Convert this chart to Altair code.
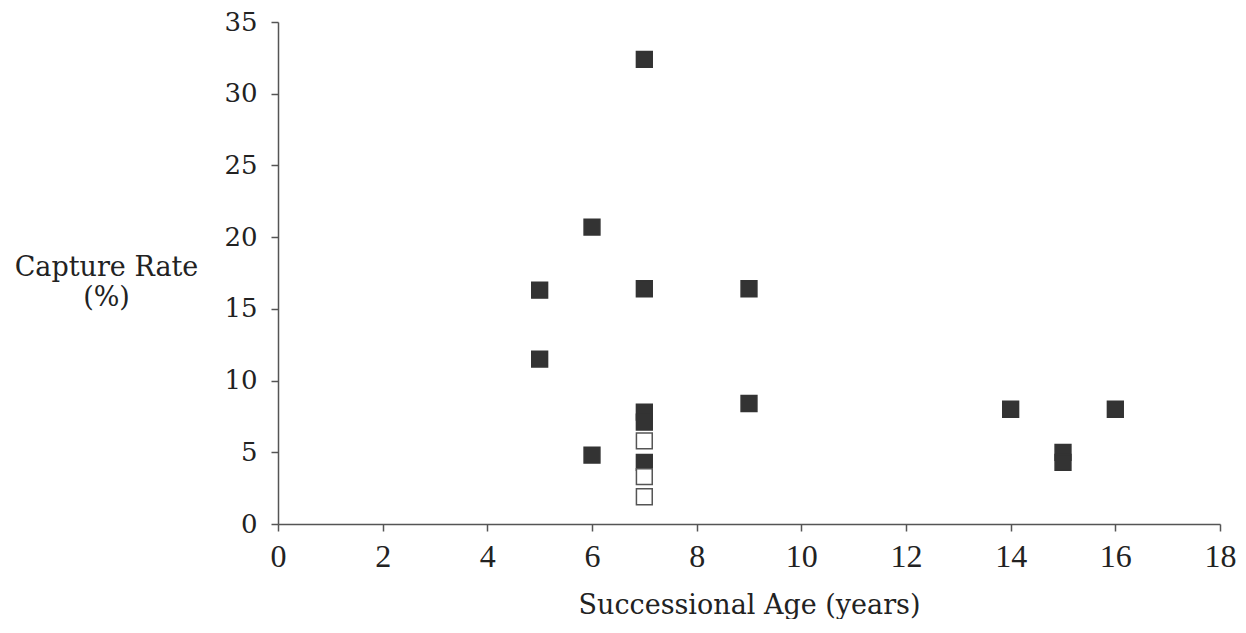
import altair as alt
import pandas as pd

age = [7, 6, 5, 7, 9, 5, 9, 14, 16, 15, 15, 6, 7, 7, 7, 7, 7, 7]
rate = [32.4, 20.7, 16.3, 16.4, 16.4, 11.5, 8.4, 8.0, 8.0, 5.0, 4.3, 4.8, 7.8, 7.1, 5.8, 4.3, 3.3, 1.9]
kind = ["filled"] * 14 + ["open", "filled", "open", "open"]

df = pd.DataFrame({"age": age, "rate": rate, "kind": kind})

SERIF = "DejaVu Serif"
XFONT = "Liberation Serif"

chart = alt.Chart(df).mark_point(shape="square", size=250, strokeWidth=1.5, opacity=1).encode(
    x=alt.X("age:Q", scale=alt.Scale(domain=[0, 18], nice=False),
            axis=alt.Axis(values=list(range(0, 19, 2)), title="Successional Age (years)",
                          titleFont=SERIF, titleFontSize=27, titleFontWeight="normal", titlePadding=20,
                          labelFont=XFONT, labelFontSize=32, labelPadding=10, tickSize=7, grid=False,
                          labelFlush=False)),
    y=alt.Y("rate:Q", scale=alt.Scale(domain=[0, 35], nice=False),
            axis=alt.Axis(values=list(range(0, 36, 5)), title=["Capture Rate", "(%)"],
                          titleFont=SERIF, titleAngle=0, titleAlign="center", titleBaseline="top",
                          titleX=-172, titleY=232, titleFontSize=27, titleFontWeight="normal",
                          titleLineHeight=30,
                          labelFont=SERIF, labelFontSize=26, labelPadding=14, tickSize=7, grid=False,
                          labelFlush=False)),
    fill=alt.Fill("kind:N", scale=alt.Scale(domain=["filled", "open"], range=["#333333", "#ffffff"]), legend=None),
    stroke=alt.Stroke("kind:N", scale=alt.Scale(domain=["filled", "open"], range=["#333333", "#555555"]), legend=None),
    order=alt.Order("kind:N"),
).properties(
    width=942, height=502,
    autosize=alt.AutoSizeParams(type="none"),
    padding={"left": 270, "top": 14, "right": 16, "bottom": 95},
).configure_axis(
    labelColor="#222222", titleColor="#222222",
    domainColor="#555555", tickColor="#555555", domainWidth=1.5, tickWidth=1.5,
).configure_view(stroke=None)

chart.save("out.html", embed_options={"renderer": "svg", "actions": False})
